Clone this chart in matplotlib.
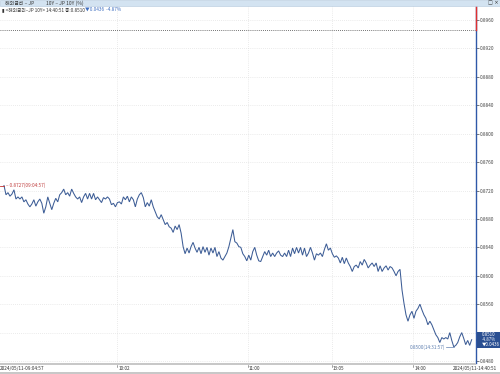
import numpy as np
import matplotlib
matplotlib.use("Agg")
import matplotlib.pyplot as plt
from matplotlib.patches import Rectangle, Polygon

plt.rcParams['font.family'] = ['Noto Sans CJK KR', 'DejaVu Sans']

# ---------------- data ----------------
title_left = "해외금리 – JP"
title_mid = "10Y – JP 10Y (%)"
info_prefix = "▮ <해외금리–JP 10Y> 14:40:51 종:0.8510 "
info_change = "▼0.0436  -4.87%"

prev_close = 0.8946
last_value = 0.8510
last_change = "▼0.0436"
last_pct = "-4.87%"
open_label = "0.8727(09:04:57)"
min_label = "0.8500(14:31:57)"
start_time = "2024/05/11-09:04:57"
end_time = "2024/05/11-14:40:51"
time_ticks = ["10:02", "11:00", "13:05", "14:00"]
time_tick_frac = [0.2465, 0.520, 0.697, 0.868]   # fraction of plot width
y_ticks = [0.8480, 0.8520, 0.8560, 0.8600, 0.8640, 0.8680, 0.8720,
           0.8760, 0.8800, 0.8840, 0.8880, 0.8920, 0.8960]

prices = [
    0.8727, 0.8714, 0.8717, 0.8712, 0.8715, 0.8721, 0.8708, 0.8711, 0.8708, 0.8711,
    0.8704, 0.8707, 0.8701, 0.8697, 0.8701, 0.8707, 0.8698, 0.8704, 0.8708, 0.8702,
    0.8688, 0.8697, 0.8711, 0.8702, 0.8693, 0.8702, 0.8709, 0.8704, 0.8714, 0.8717,
    0.8722, 0.8714, 0.8717, 0.8712, 0.8722, 0.8716, 0.8711, 0.8708, 0.8711, 0.8703,
    0.8711, 0.8716, 0.8708, 0.8716, 0.8708, 0.8716, 0.8707, 0.8711, 0.8707, 0.8703,
    0.8710, 0.8708, 0.8711, 0.8708, 0.8700, 0.8702, 0.8697, 0.8703, 0.8704, 0.8701,
    0.8711, 0.8707, 0.8712, 0.8704, 0.8711, 0.8707, 0.8697, 0.8708, 0.8714, 0.8717,
    0.8710, 0.8697, 0.8703, 0.8698, 0.8707, 0.8697, 0.8690, 0.8683, 0.8680, 0.8686,
    0.8679, 0.8672, 0.8675, 0.8669, 0.8667, 0.8661, 0.8670, 0.8665, 0.8672, 0.8660,
    0.8641, 0.8631, 0.8639, 0.8632, 0.8641, 0.8647, 0.8639, 0.8633, 0.8640, 0.8631,
    0.8641, 0.8633, 0.8640, 0.8629, 0.8639, 0.8632, 0.8640, 0.8627, 0.8634, 0.8625,
    0.8622, 0.8627, 0.8632, 0.8641, 0.8653, 0.8665, 0.8648, 0.8646, 0.8641, 0.8640,
    0.8631, 0.8627, 0.8621, 0.8629, 0.8622, 0.8634, 0.8640, 0.8629, 0.8621, 0.8620,
    0.8627, 0.8634, 0.8629, 0.8636, 0.8627, 0.8632, 0.8627, 0.8632, 0.8635, 0.8629,
    0.8627, 0.8632, 0.8627, 0.8636, 0.8627, 0.8639, 0.8631, 0.8640, 0.8632, 0.8640,
    0.8629, 0.8639, 0.8627, 0.8632, 0.8640, 0.8632, 0.8622, 0.8631, 0.8629, 0.8632,
    0.8627, 0.8637, 0.8645, 0.8636, 0.8639, 0.8631, 0.8626, 0.8628, 0.8625, 0.8618,
    0.8626, 0.8617, 0.8625, 0.8618, 0.8613, 0.8606, 0.8613, 0.8615, 0.8611, 0.8620,
    0.8615, 0.8623, 0.8618, 0.8611, 0.8615, 0.8618, 0.8613, 0.8618, 0.8606, 0.8614,
    0.8606, 0.8611, 0.8614, 0.8608, 0.8613, 0.8611, 0.8606, 0.8600, 0.8606, 0.8609,
    0.8580, 0.8561, 0.8545, 0.8536, 0.8545, 0.8550, 0.8540, 0.8550, 0.8554, 0.8560,
    0.8552, 0.8545, 0.8540, 0.8531, 0.8536, 0.8531, 0.8524, 0.8517, 0.8513, 0.8506,
    0.8513, 0.8511, 0.8513, 0.8511, 0.8520, 0.8509, 0.8500, 0.8502, 0.8506, 0.8514,
    0.8520, 0.8512, 0.8503, 0.8509, 0.8502, 0.8510,
]

# ---------------- figure ----------------
W, H = 500, 374
fig = plt.figure(figsize=(W / 100, H / 100), dpi=100)
fig.patch.set_facecolor("white")

def fx(px):
    return px / W

def fy(py):
    return 1 - py / H

plot_l, plot_r, plot_t, plot_b = 0, 476, 6, 363
ax = fig.add_axes([fx(plot_l), fy(plot_b), fx(plot_r - plot_l), (plot_b - plot_t) / H])

n = len(prices)
x = np.arange(n)
step_px = (1415 - 12) / 3 / (n - 1) * 1.0  # pixels per index (width scale)
px_per_idx = (plot_r - plot_l) * ((1415 - 12) / 1428) / (n - 1)
x_left = -(12 / 3) / px_per_idx
x_right = (n - 1) + ((1428 - 1415) / 3) / px_per_idx
ax.set_xlim(x_left, x_right)
ax.set_ylim(0.84772, 0.89797)

line_col = "#3d5d96"
ax.plot(x, prices, color=line_col, lw=0.75, solid_joinstyle="miter")

# grid lines
for v in y_ticks:
    ax.axhline(v, color="#d8d8d8", lw=0.5, ls=(0, (1, 2)), zorder=0)
tick_idx = [x_left + f * (x_right - x_left) for f in time_tick_frac]
for t in tick_idx:
    ax.axvline(t, color="#d8d8d8", lw=0.5, ls=(0, (1, 2)), zorder=0)

# previous close dotted line
ax.axhline(prev_close, color="#444444", lw=0.6, ls=(0, (1, 1.5)), zorder=1)

# spines
for s in ["top", "left", "bottom"]:
    ax.spines[s].set_visible(False)
ax.spines["right"].set_visible(False)
ax.plot([1, 1], [0, 1], transform=ax.transAxes, color="#2f58a8", lw=1.0, clip_on=False)
ax.plot([x_right, x_right], [prev_close, 0.89797], color="#e03030", lw=1.0, clip_on=False, zorder=5)

ax.set_xticks([])
ax.yaxis.tick_right()
ax.set_yticks(y_ticks)
ax.set_yticklabels([f"{v:.4f}" for v in y_ticks])
ax.tick_params(axis="y", length=2, width=0.5, pad=0.5, labelsize=3.4,
               colors="#444444", direction="out")
for lbl in ax.get_yticklabels():
    if lbl.get_text() == "0.8520":
        lbl.set_visible(False)

# open marker
ax.plot([x_left, 0], [prices[0], prices[0]], color="#c03030", lw=0.6, clip_on=False)
ax.text(0 + 0.8, prices[0], "– " + open_label, color="#c04040", fontsize=3.4,
        va="center", ha="left")

# min marker
imin = int(np.argmin(prices))
ax.plot([imin - 4, imin], [prices[imin] - 0.00003, prices[imin] - 0.00003],
        color="#6080b0", lw=0.5)
ax.text(imin - 4.3, prices[imin] - 0.00003, min_label, color="#6080b0",
        fontsize=3.4, va="center", ha="right")

# last value box
box_top, box_bot = 331.5, 347.5
fig.patches.append(Rectangle((fx(477), fy(box_bot)), fx(23), (box_bot - box_top) / H,
                             transform=fig.transFigure, facecolor="#2a4f92",
                             edgecolor="none", zorder=5))
fig.patches.append(Polygon([[fx(476), fy(340)], [fx(480), fy(337)], [fx(480), fy(343)]],
                           closed=True, transform=fig.transFigure,
                           facecolor="#2a4f92", edgecolor="none", zorder=5))
for i, s in enumerate([f"{last_value:.4f}", last_pct, last_change]):
    fig.text(fx(482), fy(334.5 + i * 5), s, color="white", fontsize=3.2,
             va="center", ha="left", zorder=6)

# title bar
fig.patches.append(Rectangle((0, fy(6)), 1, 6 / H, transform=fig.transFigure,
                             facecolor="#d3e3f1", edgecolor="#b5c9dd", lw=0.4, zorder=3))
fig.text(fx(5), fy(3), title_left, fontsize=3.6, color="#333333", va="center", zorder=4)
fig.text(fx(46), fy(3), title_mid, fontsize=3.6, color="#333333", va="center", zorder=4)
fig.text(fx(488), fy(3), "□ ×", fontsize=3.6, color="#333333", va="center",
         ha="left", family=["DejaVu Sans"], zorder=4)

# info line
t1 = fig.text(fx(1.5), fy(9.5), info_prefix, fontsize=3.4, color="#333333", va="center")
fig.canvas.draw()
bb = t1.get_window_extent()
fig.text(bb.x1 / W, fy(9.5), info_change, fontsize=3.4, color="#3f6fc0", va="center")

# bottom axis bars
fig.patches.append(Rectangle((0, fy(365)), fx(476), 2 / H, transform=fig.transFigure,
                             facecolor="#c8c8c8", edgecolor="none"))
fig.patches.append(Rectangle((0, 0), 1, 2 / H, transform=fig.transFigure,
                             facecolor="#c8c8c8", edgecolor="none"))
lab_y = fy(368.5)
fig.text(fx(0), lab_y, start_time, fontsize=3.4, color="#333333", va="center", ha="left")
fig.text(fx(497), lab_y, end_time, fontsize=3.4, color="#333333", va="center", ha="right")
for t, f in zip(time_ticks, time_tick_frac):
    xp = f * plot_r
    fig.lines.append(plt.Line2D([fx(xp), fx(xp)], [fy(365), fy(367)],
                                transform=fig.transFigure, color="#555555", lw=0.4))
    fig.text(fx(xp + 1), lab_y, t, fontsize=3.4, color="#333333", va="center", ha="left")

fig.savefig("out.png", dpi=100)
